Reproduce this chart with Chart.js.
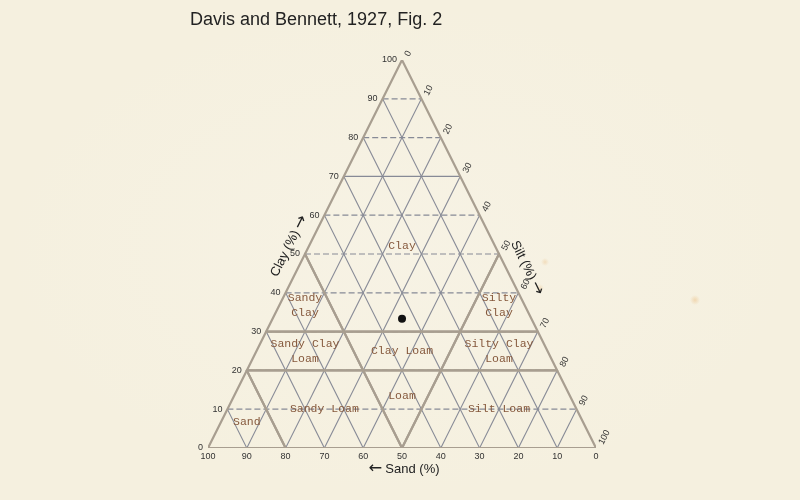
<!DOCTYPE html>
<html>
<head>
<meta charset="utf-8">
<script src="https://cdn.jsdelivr.net/npm/chart.js@4.4.1/dist/chart.umd.min.js"></script>
<style>
  html, body { margin:0; padding:0; }
  body {
    width:800px; height:500px; overflow:hidden;
    background-color:#f5f0df;
    background-image:
      radial-gradient(circle at 695px 300px, rgba(235,190,130,0.5) 0, rgba(235,190,130,0) 5px),
      radial-gradient(circle at 545px 262px, rgba(235,190,130,0.4) 0, rgba(235,190,130,0) 4px),
      radial-gradient(circle at 540px 288px, rgba(235,190,130,0.35) 0, rgba(235,190,130,0) 4px),
      radial-gradient(ellipse at 50% 50%, rgba(248,244,232,0.6) 0, rgba(245,240,223,0) 70%);
  }
  #wrap { position:absolute; left:0; top:0; width:800px; height:500px; }
</style>
</head>
<body>
<div id="wrap"><canvas id="c" width="800" height="500"></canvas></div>
<script>
// ---- data ----
const titleText = 'Davis and Bennett, 1927, Fig. 2';
const clayTicks = [0,10,20,30,40,50,60,70,80,90,100];
const sandTicks = [0,10,20,30,40,50,60,70,80,90,100];
const siltTicks = [0,10,20,30,40,50,60,70,80,90,100];
const gridSteps = [10,20,30,40,50,60,70,80,90];
// class names, label text, and polygon vertices as [clay, sand, silt] (%)
const classNames = ['Sand','Sandy Loam','Loam','Silt Loam','Sandy Clay Loam','Clay Loam','Silty Clay Loam','Sandy Clay','Silty Clay','Clay'];
const classLabels = ['Sand','Sandy Loam','Loam','Silt Loam','Sandy Clay\nLoam','Clay Loam','Silty Clay\nLoam','Sandy\nClay','Silty\nClay','Clay'];
const classPolys = [
  [[0,100,0],[20,80,0],[0,80,20]],
  [[20,80,0],[0,80,20],[0,50,50],[20,50,30]],
  [[20,50,30],[0,50,50],[20,30,50]],
  [[20,30,50],[0,50,50],[0,0,100],[20,0,80]],
  [[30,70,0],[20,80,0],[20,50,30],[30,50,20]],
  [[30,50,20],[20,50,30],[20,30,50],[30,20,50]],
  [[30,20,50],[20,30,50],[20,0,80],[30,0,70]],
  [[50,50,0],[30,70,0],[30,50,20]],
  [[50,0,50],[30,20,50],[30,0,70]],
  [[100,0,0],[50,50,0],[30,50,20],[30,20,50],[50,0,50]]
];
const samplePoints = [[33.33,33.33,33.34]]; // [clay, sand, silt]

// ---- ternary -> cartesian data space ----
function toXY(clay, sand, silt) {
  return { x: (silt + clay / 2) / 100, y: clay / 100 };
}

const GRID = '#878a96';
const BOUND = '#a89e90';
const datasets = [];

datasets.push({
  type: 'scatter',
  data: samplePoints.map(p => toXY(p[0], p[1], p[2])),
  pointRadius: 4, pointBackgroundColor: '#111', pointBorderColor: '#111',
  borderWidth: 0, order: 0
});

classPolys.forEach(poly => {
  const pts = poly.map(v => toXY(v[0], v[1], v[2]));
  pts.push(pts[0]);
  datasets.push({
    type: 'scatter', data: pts, showLine: true, pointRadius: 0,
    borderColor: BOUND, borderWidth: 2.2, fill: false, order: 1,
    borderJoinStyle: 'round', borderCapStyle: 'round'
  });
});

gridSteps.forEach(k => {
  datasets.push({
    type: 'scatter', showLine: true, pointRadius: 0, order: 2,
    data: [toXY(k, 100 - k, 0), toXY(k, 0, 100 - k)],
    borderColor: GRID, borderWidth: 1.2,
    borderDash: k === 70 ? [] : [6, 3]
  });
  datasets.push({
    type: 'scatter', showLine: true, pointRadius: 0, order: 2,
    data: [toXY(0, k, 100 - k), toXY(100 - k, k, 0)],
    borderColor: GRID, borderWidth: 1.1
  });
  datasets.push({
    type: 'scatter', showLine: true, pointRadius: 0, order: 2,
    data: [toXY(0, 100 - k, k), toXY(100 - k, 0, k)],
    borderColor: GRID, borderWidth: 1.1
  });
});

const ANG = Math.atan2(2, 1);
const SANS = '"Liberation Sans", Arial, sans-serif';
const ARROWF = '"DejaVu Sans", sans-serif';

function arrowText(ctx, text, arrow, arrowFirst, size) {
  const asize = size * 1.25;
  ctx.font = size + 'px ' + SANS;
  const wt = ctx.measureText(text).width;
  ctx.font = asize + 'px ' + ARROWF;
  const wa = ctx.measureText(arrow).width;
  const gap = size * 0.25;
  const total = wt + wa + gap;
  let x0 = -total / 2;
  ctx.textAlign = 'left'; ctx.textBaseline = 'middle';
  if (arrowFirst) {
    ctx.font = asize + 'px ' + ARROWF; ctx.fillText(arrow, x0, 0);
    ctx.font = size + 'px ' + SANS; ctx.fillText(text, x0 + wa + gap, 0);
  } else {
    ctx.font = size + 'px ' + SANS; ctx.fillText(text, x0, 0);
    ctx.font = asize + 'px ' + ARROWF; ctx.fillText(arrow, x0 + wt + gap, 0);
  }
}

const decorPlugin = {
  id: 'decor',
  afterDatasetsDraw(chart) {
    const ctx = chart.ctx;
    const xs = chart.scales.x, ys = chart.scales.y;
    const px = (c, s, t) => {
      const p = toXY(c, s, t);
      return [xs.getPixelForValue(p.x), ys.getPixelForValue(p.y)];
    };
    ctx.save();
    ctx.fillStyle = '#222';
    ctx.font = '18px ' + SANS;
    ctx.textAlign = 'left'; ctx.textBaseline = 'middle';
    ctx.fillText(titleText, 190, 20);

    ctx.fillStyle = '#333';
    ctx.font = '9px ' + SANS;
    clayTicks.forEach(v => {
      const [x, y] = px(v, 100 - v, 0);
      ctx.textAlign = 'right'; ctx.textBaseline = 'middle';
      ctx.fillText(String(v), x - 5, y);
    });
    sandTicks.forEach(v => {
      const [x, y] = px(0, v, 100 - v);
      ctx.textAlign = 'center'; ctx.textBaseline = 'top';
      ctx.fillText(String(v), x, y + 4);
    });
    siltTicks.forEach(v => {
      const [x, y] = px(100 - v, 0, v);
      ctx.save();
      ctx.translate(x + 5, y - 4);
      ctx.rotate(-ANG);
      ctx.textAlign = 'left'; ctx.textBaseline = 'middle';
      ctx.fillText(String(v), 0, 0);
      ctx.restore();
    });

    ctx.fillStyle = '#222';
    {
      const [x, y] = px(0, 50, 50);
      ctx.save(); ctx.translate(x + 2, y + 21);
      arrowText(ctx, 'Sand (%)', '\u2190', true, 13);
      ctx.restore();
    }
    {
      const [x, y] = px(50, 50, 0);
      ctx.save(); ctx.translate(x - 16, y - 8); ctx.rotate(-ANG);
      arrowText(ctx, 'Clay (%)', '\u2192', false, 13);
      ctx.restore();
    }
    {
      const [x, y] = px(50, 0, 50);
      ctx.save(); ctx.translate(x + 28, y + 14); ctx.rotate(ANG);
      arrowText(ctx, 'Silt (%)', '\u2192', false, 13);
      ctx.restore();
    }

    ctx.fillStyle = '#85583c';
    ctx.font = '11.5px "Liberation Mono", "Courier New", monospace';
    ctx.textAlign = 'center'; ctx.textBaseline = 'middle';
    classPolys.forEach((poly, i) => {
      let c = 0, s = 0, t = 0;
      poly.forEach(v => { c += v[0]; s += v[1]; t += v[2]; });
      const n = poly.length;
      const [x, y] = px(c / n, s / n, t / n);
      const lines = classLabels[i].split('\n');
      const lh = 15;
      lines.forEach((ln, j) => {
        ctx.fillText(ln, x, y + (j - (lines.length - 1) / 2) * lh);
      });
    });
    ctx.restore();
  }
};

new Chart(document.getElementById('c'), {
  type: 'scatter',
  data: { datasets },
  options: {
    responsive: false,
    animation: false,
    events: [],
    layout: { padding: { left: 208, right: 204, top: 60, bottom: 52 } },
    plugins: { legend: { display: false }, tooltip: { enabled: false }, title: { display: false } },
    scales: {
      x: { type: 'linear', min: 0, max: 1, display: false },
      y: { type: 'linear', min: 0, max: 1, display: false }
    }
  },
  plugins: [decorPlugin]
});
</script>
</body>
</html>
